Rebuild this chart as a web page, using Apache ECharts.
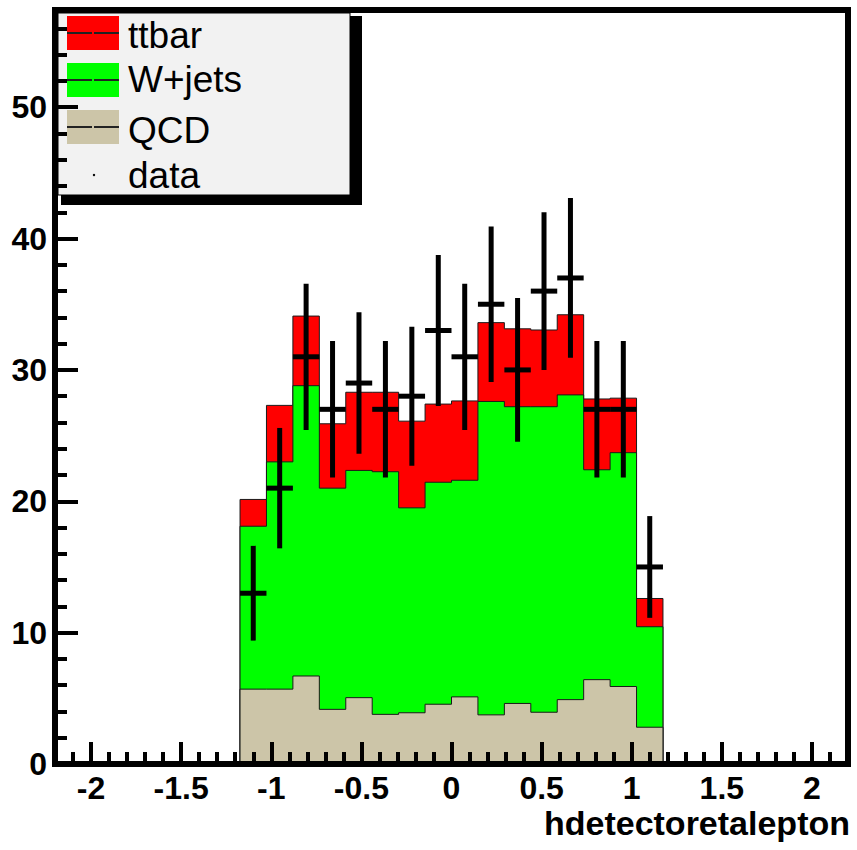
<!DOCTYPE html>
<html><head><meta charset="utf-8">
<script src="https://cdn.jsdelivr.net/npm/echarts@6/dist/echarts.min.js"></script>
<style>html,body{margin:0;padding:0;background:#fff}#c{width:857px;height:850px}</style>
</head><body><div id="c"></div>
<script>
// ---- binning of the histogram (30 bins from -2.2 to 2.2; first filled bin index 7) ----
const xLow = -2.2, xHigh = 2.2, nBins = 30, firstBin = 7;
// ---- per-bin contents of the 16 filled bins ----
const qcd   = [5.7, 5.7, 6.7, 4.16, 5.05, 3.78, 3.9, 4.55, 5.11, 3.74, 4.61, 3.94, 4.9, 6.42, 5.9, 2.8];
const wjets = [12.4, 17.3, 22.1, 16.84, 17.3, 18.47, 15.6, 16.9, 16.49, 23.86, 22.59, 23.26, 23.2, 15.98, 17.8, 7.65];
const ttbar = [2.04, 4.3, 5.3, 4.9, 5.95, 6.05, 6.6, 5.95, 6.04, 6.0, 5.93, 5.84, 6.1, 5.39, 4.15, 2.15];
const data  = [13, 21, 31, 27, 29, 27, 28, 33, 31, 35, 30, 36, 37, 27, 27, 15];
// ---- axes ----
const xTickLabels = [-2, -1.5, -1, -0.5, 0, 0.5, 1, 1.5, 2];
const xMinorStep = 0.1;
const yTickLabels = [0, 10, 20, 30, 40, 50];
const yMax = 57.4;
const xTitle = 'hdetectoretalepton';
const legendNames = ['ttbar', 'W+jets', 'QCD', 'data'];
const colors = {ttbar: '#ff0000', wjets: '#00ff00', qcd: '#ccc5a8'};

const binW = (xHigh - xLow) / nBins;
const edge = k => +(xLow + (firstBin + k) * binW).toFixed(6);
function stepData(vals) {
  const pts = [[edge(0), 0]];
  vals.forEach((v, i) => pts.push([edge(i), v]));
  pts.push([edge(vals.length), 0]);
  return pts;
}
const cumQ = qcd.slice();
const cumW = qcd.map((v, i) => v + wjets[i]);
const cumT = cumW.map((v, i) => v + ttbar[i]);
const dataPts = data.map((n, i) => [edge(i), edge(i + 1), n, Math.sqrt(n)]);

const FONT = 'Liberation Sans';
const chart = echarts.init(document.getElementById('c'), null, {renderer: 'svg'});

function histSeries(name, vals, color, z) {
  return {
    type: 'line', name: name, data: stepData(vals), step: 'end', symbol: 'none',
    xAxisIndex: 0, yAxisIndex: 0, silent: true, z: z,
    lineStyle: {color: '#1a1a1a', width: 1},
    itemStyle: {color: color},
    areaStyle: {color: color, opacity: 1}
  };
}

const legendItems = [];
const rowY = [33, 80, 127];
const rowColors = [colors.ttbar, colors.wjets, colors.qcd];
for (let i = 0; i < 3; i++) {
  legendItems.push({type: 'rect', shape: {x: 67, y: rowY[i] - 17, width: 52, height: 34}, style: {fill: rowColors[i]}});
  legendItems.push({type: 'line', shape: {x1: 67, y1: rowY[i], x2: 92, y2: rowY[i]}, style: {stroke: '#222', lineWidth: 2}});
  legendItems.push({type: 'line', shape: {x1: 94, y1: rowY[i], x2: 119, y2: rowY[i]}, style: {stroke: '#222', lineWidth: 2}});
}
const textY = [35, 79, 130, 175];
legendNames.forEach((t, i) => {
  legendItems.push({type: 'text', x: 128, y: textY[i], style: {text: t, font: '37px "' + FONT + '"', fill: '#000', textVerticalAlign: 'middle', textAlign: 'left'}});
});
legendItems.push({type: 'circle', shape: {cx: 94, cy: 175, r: 1.2}, style: {fill: '#000'}});

const option = {
  animation: false,
  backgroundColor: '#fff',
  grid: [{left: 55, right: 9, top: 10, bottom: 86, containLabel: false, outerBoundsMode: 'none',
           show: true, borderColor: '#000', borderWidth: 6, backgroundColor: 'transparent'}],
  xAxis: [
    // axis used by the series; carries the minor ticks every 0.1
    {type: 'value', min: xLow, max: xHigh, interval: xMinorStep, position: 'bottom', z: 9,
     axisLine: {show: true, onZero: false, lineStyle: {color: '#000', width: 6}},
     axisLabel: {show: false}, splitLine: {show: false},
     axisTick: {show: true, inside: true, length: 12, lineStyle: {color: '#000', width: 4}}},
    // twin axis with the major ticks, labels and title
    {type: 'value', min: xLow, max: xHigh, position: 'bottom', z: 10,
     axisLine: {show: true, onZero: false, lineStyle: {color: '#000', width: 6}},
     axisTick: {show: true, inside: true, length: 22, lineStyle: {color: '#000', width: 4}, customValues: xTickLabels},
     axisLabel: {show: true, customValues: xTickLabels, margin: 8, color: '#000', fontFamily: FONT, fontWeight: 'bold', fontSize: 32},
     splitLine: {show: false},
     name: xTitle, nameLocation: 'end', nameGap: 2,
     nameTextStyle: {color: '#000', fontFamily: FONT, fontWeight: 'bold', fontSize: 34, align: 'right', verticalAlign: 'top', padding: [42, 0, 0, 0]}}
  ],
  yAxis: [
    {type: 'value', min: 0, max: yMax, interval: 10, position: 'left', z: 10,
     axisLine: {show: true, onZero: false, lineStyle: {color: '#000', width: 6}},
     axisTick: {show: true, inside: true, length: 23, lineStyle: {color: '#000', width: 4}},
     minorTick: {show: true, splitNumber: 5, length: 12, lineStyle: {color: '#000', width: 4}},
     axisLabel: {show: true, showMaxLabel: false, margin: 8, color: '#000', fontFamily: FONT, fontWeight: 'bold', fontSize: 32,
                 formatter: v => (yTickLabels.indexOf(v) >= 0 ? String(v) : '')},
     splitLine: {show: false}, minorSplitLine: {show: false}}
  ],
  series: [
    histSeries('ttbar', cumT, colors.ttbar, 2),
    histSeries('W+jets', cumW, colors.wjets, 3),
    histSeries('QCD', cumQ, colors.qcd, 4),
    {type: 'custom', name: 'data', data: dataPts, xAxisIndex: 0, yAxisIndex: 0, z: 5, silent: true,
     encode: {x: [0, 1], y: [2]},
     renderItem: function (params, api) {
       const lo = api.value(0), hi = api.value(1), n = api.value(2), e = api.value(3);
       const mid = (lo + hi) / 2;
       const pL = api.coord([lo, n]), pR = api.coord([hi, n]);
       const pT = api.coord([mid, n + e]), pB = api.coord([mid, n - e]);
       return {type: 'group', children: [
         {type: 'line', shape: {x1: pL[0], y1: pL[1], x2: pR[0], y2: pR[1]}, style: {stroke: '#000', lineWidth: 5}},
         {type: 'line', shape: {x1: pT[0], y1: pT[1], x2: pB[0], y2: pB[1]}, style: {stroke: '#000', lineWidth: 5}}
       ]};
     }}
  ],
  graphic: [{
    type: 'group', z: 100, silent: true,
    children: [
      {type: 'rect', shape: {x: 61, y: 16, width: 301, height: 189}, style: {fill: '#000'}},
      {type: 'rect', shape: {x: 58, y: 13, width: 292, height: 182}, style: {fill: '#f2f2f2', stroke: '#000', lineWidth: 1}}
    ].concat(legendItems)
  }]
};
chart.setOption(option);
</script>
</body></html>
